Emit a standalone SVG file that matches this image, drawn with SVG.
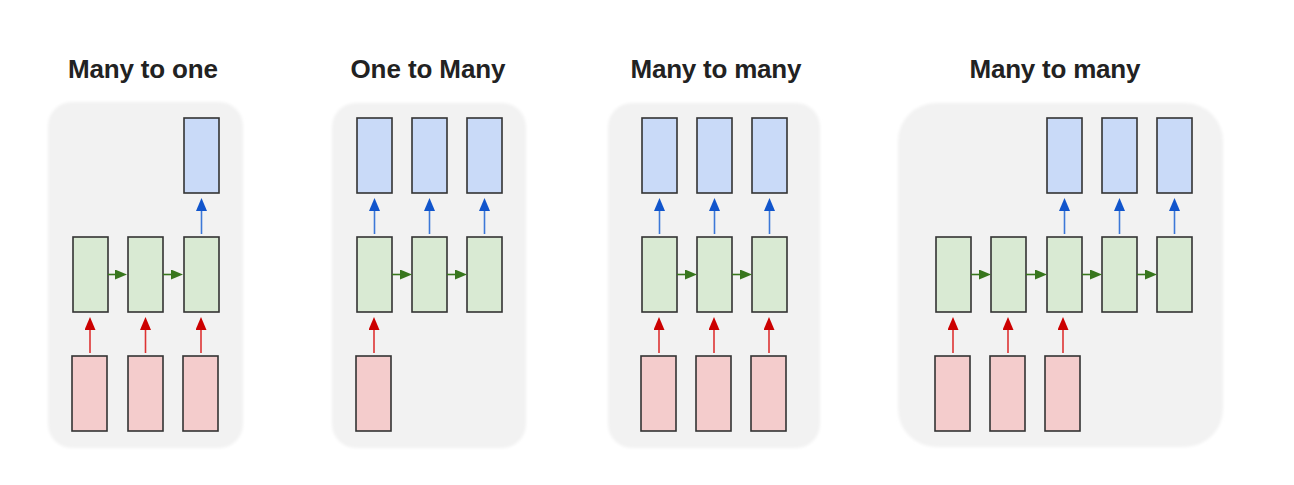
<svg xmlns="http://www.w3.org/2000/svg" width="1294" height="485" viewBox="0 0 1294 485">
<defs>
<style>
.title{font-family:"Liberation Sans",Arial,sans-serif;font-weight:bold;font-size:26px;fill:#222;text-anchor:middle}
.panel{fill:#f2f2f2}
.box{stroke:#333;stroke-width:1.6}
.o{fill:#c9daf8}
.h{fill:#d9ead3}
.i{fill:#f4cccc}
.ab{stroke:#3c78d8;stroke-width:1.6;fill:none;marker-end:url(#mb)}
.ar{stroke:#d33;stroke-width:1.6;fill:none;marker-end:url(#mr)}
.ag{stroke:#38761d;stroke-width:1.6;fill:none;marker-end:url(#mg)}
</style>
<filter id="soft" x="-5%" y="-5%" width="110%" height="110%"><feGaussianBlur stdDeviation="1.5"/></filter>
<marker id="mb" markerUnits="userSpaceOnUse" markerWidth="13" markerHeight="11" refX="7" refY="5.5" orient="auto"><path d="M0,0 L13,5.5 L0,11 z" fill="#1155cc"/></marker>
<marker id="mr" markerUnits="userSpaceOnUse" markerWidth="13" markerHeight="11" refX="7" refY="5.5" orient="auto"><path d="M0,0 L13,5.5 L0,11 z" fill="#cc0000"/></marker>
<marker id="mg" markerUnits="userSpaceOnUse" markerWidth="12" markerHeight="10" refX="6" refY="5" orient="auto"><path d="M0,0 L12,5 L0,10 z" fill="#38761d"/></marker>
</defs>
<rect width="1294" height="485" fill="#fff"/>

<g id="panel1">
<rect class="panel" x="48" y="102" width="195" height="346" rx="24" filter="url(#soft)"/>
<text class="title" x="143" y="78" textLength="150">Many to one</text>
</g>
<g id="panel2">
<rect class="panel" x="332" y="103" width="194" height="345" rx="24" filter="url(#soft)"/>
<text class="title" x="428" y="78" textLength="155">One to Many</text>
</g>
<g id="panel3">
<rect class="panel" x="608" y="103" width="212" height="345" rx="24" filter="url(#soft)"/>
<text class="title" x="716" y="78" textLength="171">Many to many</text>
</g>
<g id="panel4">
<rect class="panel" x="898" y="103" width="325" height="344" rx="38" filter="url(#soft)"/>
<text class="title" x="1055" y="78" textLength="171">Many to many</text>
</g>

<!-- Panel 1 nodes -->
<g id="p1-out3"><rect class="box o" x="184" y="118" width="35" height="75"/></g>
<g id="p1-h1"><rect class="box h" x="73" y="237" width="35" height="75"/></g>
<g id="p1-h2"><rect class="box h" x="128" y="237" width="35" height="75"/></g>
<g id="p1-h3"><rect class="box h" x="184" y="237" width="35" height="75"/></g>
<g id="p1-in1"><rect class="box i" x="72" y="356" width="35" height="75"/></g>
<g id="p1-in2"><rect class="box i" x="128" y="356" width="35" height="75"/></g>
<g id="p1-in3"><rect class="box i" x="183" y="356" width="35" height="75"/></g>

<!-- Panel 2 nodes -->
<g id="p2-out1"><rect class="box o" x="357" y="118" width="35" height="75"/></g>
<g id="p2-out2"><rect class="box o" x="412" y="118" width="35" height="75"/></g>
<g id="p2-out3"><rect class="box o" x="467" y="118" width="35" height="75"/></g>
<g id="p2-h1"><rect class="box h" x="357" y="237" width="35" height="75"/></g>
<g id="p2-h2"><rect class="box h" x="412" y="237" width="35" height="75"/></g>
<g id="p2-h3"><rect class="box h" x="467" y="237" width="35" height="75"/></g>
<g id="p2-in1"><rect class="box i" x="356" y="356" width="35" height="75"/></g>

<!-- Panel 3 nodes -->
<g id="p3-out1"><rect class="box o" x="642" y="118" width="35" height="75"/></g>
<g id="p3-out2"><rect class="box o" x="697" y="118" width="35" height="75"/></g>
<g id="p3-out3"><rect class="box o" x="752" y="118" width="35" height="75"/></g>
<g id="p3-h1"><rect class="box h" x="642" y="237" width="35" height="75"/></g>
<g id="p3-h2"><rect class="box h" x="697" y="237" width="35" height="75"/></g>
<g id="p3-h3"><rect class="box h" x="752" y="237" width="35" height="75"/></g>
<g id="p3-in1"><rect class="box i" x="641" y="356" width="35" height="75"/></g>
<g id="p3-in2"><rect class="box i" x="696" y="356" width="35" height="75"/></g>
<g id="p3-in3"><rect class="box i" x="751" y="356" width="35" height="75"/></g>

<!-- Panel 4 nodes -->
<g id="p4-out3"><rect class="box o" x="1047" y="118" width="35" height="75"/></g>
<g id="p4-out4"><rect class="box o" x="1102" y="118" width="35" height="75"/></g>
<g id="p4-out5"><rect class="box o" x="1157" y="118" width="35" height="75"/></g>
<g id="p4-h1"><rect class="box h" x="936" y="237" width="35" height="75"/></g>
<g id="p4-h2"><rect class="box h" x="991" y="237" width="35" height="75"/></g>
<g id="p4-h3"><rect class="box h" x="1047" y="237" width="35" height="75"/></g>
<g id="p4-h4"><rect class="box h" x="1102" y="237" width="35" height="75"/></g>
<g id="p4-h5"><rect class="box h" x="1157" y="237" width="35" height="75"/></g>
<g id="p4-in1"><rect class="box i" x="935" y="356" width="35" height="75"/></g>
<g id="p4-in2"><rect class="box i" x="990" y="356" width="35" height="75"/></g>
<g id="p4-in3"><rect class="box i" x="1045" y="356" width="35" height="75"/></g>

<g id="connectors">
<!-- Panel 1 -->
<line class="ab" x1="201.5" y1="234" x2="201.5" y2="204"/>
<line class="ag" x1="108" y1="274.5" x2="121" y2="274.5"/>
<line class="ag" x1="163" y1="274.5" x2="177" y2="274.5"/>
<line class="ar" x1="90" y1="353" x2="90" y2="323"/>
<line class="ar" x1="145.5" y1="353" x2="145.5" y2="323"/>
<line class="ar" x1="201" y1="353" x2="201" y2="323"/>
<!-- Panel 2 -->
<line class="ab" x1="374.5" y1="234" x2="374.5" y2="204"/>
<line class="ab" x1="429.5" y1="234" x2="429.5" y2="204"/>
<line class="ab" x1="484.5" y1="234" x2="484.5" y2="204"/>
<line class="ag" x1="392" y1="274.5" x2="406" y2="274.5"/>
<line class="ag" x1="447" y1="274.5" x2="461" y2="274.5"/>
<line class="ar" x1="374" y1="353" x2="374" y2="323"/>
<!-- Panel 3 -->
<line class="ab" x1="659.5" y1="234" x2="659.5" y2="204"/>
<line class="ab" x1="714.5" y1="234" x2="714.5" y2="204"/>
<line class="ab" x1="769.5" y1="234" x2="769.5" y2="204"/>
<line class="ag" x1="677" y1="274.5" x2="691" y2="274.5"/>
<line class="ag" x1="732" y1="274.5" x2="746" y2="274.5"/>
<line class="ar" x1="659" y1="353" x2="659" y2="323"/>
<line class="ar" x1="714" y1="353" x2="714" y2="323"/>
<line class="ar" x1="769" y1="353" x2="769" y2="323"/>
<!-- Panel 4 -->
<line class="ab" x1="1064.5" y1="234" x2="1064.5" y2="204"/>
<line class="ab" x1="1119.5" y1="234" x2="1119.5" y2="204"/>
<line class="ab" x1="1174.5" y1="234" x2="1174.5" y2="204"/>
<line class="ag" x1="971" y1="274.5" x2="985" y2="274.5"/>
<line class="ag" x1="1026" y1="274.5" x2="1041" y2="274.5"/>
<line class="ag" x1="1082" y1="274.5" x2="1096" y2="274.5"/>
<line class="ag" x1="1137" y1="274.5" x2="1151" y2="274.5"/>
<line class="ar" x1="953" y1="353" x2="953" y2="323"/>
<line class="ar" x1="1008" y1="353" x2="1008" y2="323"/>
<line class="ar" x1="1063" y1="353" x2="1063" y2="323"/>
</g>
</svg>
